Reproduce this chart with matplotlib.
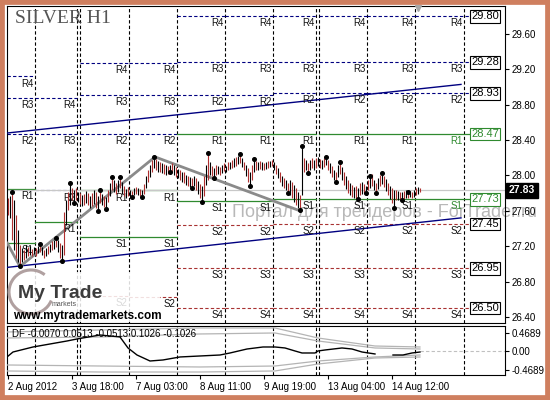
import numpy as np
import matplotlib
matplotlib.use("Agg")
import matplotlib.pyplot as plt
from matplotlib.patches import Rectangle, Arc
import matplotlib.transforms as mtrans

plt.rcParams.update({"font.family": "Liberation Sans", "font.size": 7})

# SILVER H1 bars, index 0 = 2 Aug 2012 (one bar per hour)
highs = [27.74,27.77,27.81,27.72,27.55,27.38,27.21,27.18,27.16,27.21,
         27.19,27.20,27.17,27.19,27.18,27.20,27.22,27.19,27.16,27.18,
         27.20,27.22,27.26,27.27,27.29,27.27,27.24,27.21,27.59,27.72,
         27.81,27.91,27.86,27.83,27.86,27.81,27.80,27.78,27.79,27.82,
         27.80,27.77,27.80,27.83,27.81,27.77,27.83,27.79,27.77,27.76,
         27.83,27.91,27.98,27.95,27.91,27.95,27.98,27.93,27.88,27.85,
         27.87,27.83,27.82,27.86,27.87,27.86,27.85,27.83,27.90,27.99,
         28.06,28.12,28.17,28.21,28.19,28.16,28.15,28.14,28.13,28.12,
         28.11,28.12,28.14,28.12,28.10,28.07,28.06,28.04,28.04,28.00,
         27.99,27.98,27.97,27.99,27.97,27.94,27.90,27.88,27.99,28.12,
         28.25,28.15,28.11,28.08,28.12,28.11,28.10,28.12,28.14,28.11,
         28.15,28.15,28.17,28.20,28.21,28.22,28.24,28.20,28.15,28.12,
         28.08,28.04,28.12,28.19,28.16,28.15,28.16,28.15,28.14,28.15,
         28.16,28.16,28.17,28.15,28.12,28.08,28.04,27.99,27.97,27.95,
         27.91,27.95,27.93,27.89,27.86,27.81,27.78,28.33,28.20,28.17,
         28.14,28.17,28.20,28.17,28.20,28.21,28.19,28.17,28.20,28.21,
         28.17,28.14,28.11,28.06,28.04,28.12,28.15,28.10,28.04,27.99,
         27.95,27.91,27.89,27.87,27.88,27.86,27.91,27.93,27.90,27.88,
         27.95,27.99,28.02,27.95,27.91,27.97,28.00,28.03,27.99,27.96,
         27.91,27.88,27.86,27.83,27.83,27.82,27.81,27.81,27.82,27.83,
         27.81,27.82,27.81,27.83,27.86,27.87,27.86]
lows = [27.55,27.52,27.27,27.16,27.07,27.02,26.98,27.02,27.04,27.07,
        27.09,27.10,27.09,27.11,27.09,27.12,27.13,27.10,27.07,27.09,
        27.11,27.13,27.16,27.17,27.19,27.13,27.07,27.03,27.10,27.44,
        27.61,27.67,27.72,27.69,27.72,27.70,27.68,27.65,27.67,27.69,
        27.67,27.63,27.65,27.68,27.63,27.60,27.69,27.67,27.64,27.62,
        27.70,27.77,27.83,27.81,27.79,27.81,27.86,27.79,27.77,27.74,
        27.77,27.74,27.76,27.78,27.79,27.78,27.77,27.76,27.79,27.86,
        27.93,27.98,28.04,28.08,28.06,28.04,28.04,28.03,28.02,28.00,
        28.02,28.04,28.04,28.00,27.98,27.97,27.95,27.93,27.91,27.89,
        27.88,27.87,27.86,27.88,27.83,27.79,27.74,27.70,27.77,27.89,
        27.95,28.00,27.99,27.97,28.00,28.02,28.00,28.03,28.05,28.04,
        28.06,28.07,28.08,28.10,28.11,28.13,28.14,28.10,28.06,27.99,
        27.93,27.88,27.95,28.04,28.06,28.06,28.07,28.06,28.06,28.07,
        28.08,28.10,28.11,28.06,28.02,27.97,27.93,27.88,27.86,27.83,
        27.80,27.78,27.74,27.70,27.67,27.63,27.61,27.78,28.04,28.06,
        28.03,28.06,28.08,28.06,28.08,28.11,28.08,28.07,28.10,28.12,
        28.06,28.03,27.98,27.95,27.93,27.98,28.02,27.95,27.89,27.85,
        27.80,27.78,27.76,27.74,27.73,27.73,27.78,27.79,27.80,27.80,
        27.83,27.86,27.88,27.83,27.80,27.85,27.88,27.90,27.87,27.82,
        27.78,27.73,27.69,27.63,27.72,27.72,27.72,27.72,27.73,27.74,
        27.74,27.76,27.74,27.76,27.78,27.79,27.81]
up_fractals = [2, 16, 24, 31, 46, 52, 56, 73, 100, 116, 123, 147, 159, 166, 181, 187, 200]
down_fractals = [6, 27, 33, 45, 49, 62, 67, 81, 92, 97, 103, 121, 140, 146, 150, 164, 175, 179, 184, 193, 197]

# pivot periods (bar index) and levels
day_breaks = [13.5, 34.5, 36, 60.5, 84.5, 108.5, 132.5, 154, 155.5, 179.5, 203.5, 228]
seg_start = [-0.5, 13.5, 36, 60.5, 84.5, 108.5, 132.5, 155.5, 179.5, 203.5]
seg_end = [13.5, 34.5, 60.5, 84.5, 108.5, 132.5, 154, 179.5, 203.5, 228]
R4 = [29.12, 28.88, 29.27, 29.27, 29.80, 29.80, 29.80, 29.80, 29.80, 29.80]
R3 = [28.88, 28.47, 28.91, 28.91, 29.28, 29.28, 29.28, 29.28, 29.28, 29.28]
R2 = [28.47, 27.83, 28.47, 28.47, 28.91, 28.91, 28.93, 28.93, 28.93, 28.93]
R1 = [27.85, 27.47, 27.83, 27.83, 28.47, 28.47, 28.47, 28.47, 28.47, 28.47]
S1 = [27.24, None, 27.30, 27.30, 27.71, 27.71, 27.73, 27.73, 27.73, 27.73]
S2 = [None, None, 26.64, 26.63, 27.44, 27.44, 27.45, 27.45, 27.45, 27.45]
S3 = [None, None, None, None, 26.95, 26.95, 26.95, 26.95, 26.95, 26.95]
S4 = [None, None, None, None, 26.50, 26.50, 26.50, 26.50, 26.50, 26.50]
box_levels = [29.80, 29.28, 28.93, 28.47, 27.73, 27.45, 26.95, 26.50]
box_green = [28.47, 27.73]

channel_x = [-0.5, 226.5]
channel_upper = [28.48, 29.03]
channel_lower = [26.96, 27.52]
zigzag_x = [-0.5, 6, 73.5, 146]
zigzag_y = [27.24, 26.97, 28.21, 27.60]
bid = 27.83

price_ticks = [26.40, 26.80, 27.20, 27.60, 28.00, 28.40, 28.80, 29.20, 29.60]
date_pos = [0, 32, 64, 96, 128, 160, 192]
date_labels = ["2 Aug 2012", "3 Aug 18:00", "7 Aug 03:00", "8 Aug 11:00",
               "9 Aug 19:00", "13 Aug 04:00", "14 Aug 12:00"]

# DF indicator
df_x = [-0.5, 2.5, 12.5, 21, 29.5, 34.5, 46, 56, 60, 64.5, 71, 77.5, 86, 96, 106, 111,
        119.5, 127.5, 133.5, 138.5, 143.5, 147, 153.5, 155, 158.5, 167, 172, 177, 183.5,
        188, 192.5, 197.5, 202, 206]
df_v = [-0.139, -0.013, 0.114, 0.190, 0.266, 0.317, 0.418, 0.368, 0.089, -0.089, -0.241,
        -0.215, -0.139, -0.114, -0.089, -0.038, 0.063, 0.114, 0.114, 0.089, 0.013, -0.038,
        -0.038, 0.013, 0.038, 0.089, 0.063, -0.013, -0.063, np.nan, -0.089, -0.089, -0.038, -0.013]
band_x = [-0.5, 46, 96, 133.5, 155, 183.5, 206]
band_up2 = [0.494, 0.545, 0.596, 0.596, 0.342, 0.139, 0.114]
band_up1 = [0.342, 0.368, 0.444, 0.469, 0.266, 0.089, 0.063]
band_lo1 = [-0.342, -0.368, -0.393, -0.368, -0.241, -0.139, -0.089]
band_lo2 = [-0.494, -0.520, -0.520, -0.494, -0.317, -0.165, -0.139]
df_ticks = [-0.4689, 0.0, 0.4689]
df_ticklabels = ["-0.4689", "0.00", "0.4689"]

NAVY = "#000080"
GREEN = "#2f8a2f"
DRED = "#a83232"

fig = plt.figure(figsize=(5.5, 4), dpi=100)
fig.patch.set_facecolor("white")
ax = fig.add_axes([7/550, 1-323/400, 498/550, 317/400])
ax2 = fig.add_axes([7/550, 1-375/400, 498/550, 49/400])

ax.set_xlim(-0.5, 248.5)
ax.set_ylim(26.331, 29.917)
ax2.set_xlim(-0.5, 248.5)
ax2.set_ylim(-0.596, 0.646)

for a in (ax, ax2):
    for s in a.spines.values():
        s.set_color("black"); s.set_linewidth(0.8)
    for xb in day_breaks:
        a.axvline(xb, color="black", lw=0.8, ls=(0, (3, 2)), zorder=2)

# watermark
ax.text(232/550, 1-212/400, "Портал для трейдеров - ForTrader.ru", transform=fig.transFigure,
        fontsize=13, color="#b8b8b8", va="center", ha="left", clip_on=False, zorder=1)

# pivot levels
lvl_sets = [("R4", R4), ("R3", R3), ("R2", R2), ("R1", R1), ("S1", S1), ("S2", S2), ("S3", S3), ("S4", S4)]
for k, (s0, s1) in enumerate(zip(seg_start, seg_end)):
    last = k == len(seg_start) - 1
    for name, vals in lvl_sets:
        v = vals[k]
        if v is None:
            continue
        end = 231.5 if last else s1
        if name in ("R1", "S1"):
            ax.plot([s0, end], [v, v], color=GREEN, lw=0.9, zorder=2)
        elif name.startswith("R"):
            ax.plot([s0, end], [v, v], color=NAVY, lw=0.8, ls=(0, (3, 2)), zorder=2)
        else:
            ax.plot([s0, end], [v, v], color=DRED, lw=0.8, ls=(0, (3, 2)), zorder=2)
        lc = GREEN if (last and name in ("R1", "S1")) else "#111111"
        ax.annotate(name, (s1, v), xytext=(-1, -1.5), textcoords="offset points",
                    ha="right", va="top", fontsize=7, color=lc, zorder=4)

# level boxes
for v in box_levels:
    c = GREEN if v in box_green else "black"
    ax.text(238.5, v, f"{v:.2f}", ha="center", va="center", fontsize=8, color=c, zorder=5,
            bbox=dict(boxstyle="square,pad=0.12", fc="white", ec=c, lw=0.8))

# bid line
ax.axhline(bid, color="#c8c8c8", lw=0.9, zorder=2)

# channel and zigzag
ax.plot(channel_x, channel_upper, color=NAVY, lw=1.0, zorder=3)
ax.plot(channel_x, channel_lower, color=NAVY, lw=1.0, zorder=3)
ax.plot(zigzag_x, zigzag_y, color="#8a8a8a", lw=2.0, zorder=3, solid_capstyle="round")

# bars
idx = np.arange(len(highs))
cols = ["#b03030" if i % 2 == 0 else "black" for i in idx]
ax.vlines(idx, lows, highs, colors=cols, lw=0.8, zorder=4)
ax.plot(up_fractals, [highs[i] for i in up_fractals], "o", ms=2.6, color="black", zorder=5)
ax.plot(down_fractals, [lows[i] for i in down_fractals], "o", ms=2.6, color="black", zorder=5)
ax.plot([205], [29.89], marker="v", ms=5, color="#a8a8a8", clip_on=False, zorder=5)

ax.set_xticks([])
ax.yaxis.tick_right()
ax.set_yticks(price_ticks)
ax.set_yticklabels([f"{p:.2f}" for p in price_ticks])
ax.tick_params(axis="y", direction="out", length=3, width=0.8, pad=2, labelsize=7)

# current price box
tr = mtrans.blended_transform_factory(ax.transAxes, ax.transData)
ax.text(1.008, bid, f"{bid:.2f}", transform=tr, ha="left", va="center", fontsize=7.5,
        color="white", weight="bold", clip_on=False, zorder=6,
        bbox=dict(boxstyle="square,pad=0.25", fc="black", ec="black"))

# indicator panel
for b in (band_up2, band_up1, band_lo1, band_lo2):
    ax2.plot(band_x, b, color="#b4b4b4", lw=0.9, zorder=3)
ax2.plot(df_x, df_v, color="black", lw=1.0, zorder=4)
ax2.plot([206, 248.5], [0, 0], color="#c0c0c0", lw=0.8, ls=(0, (3, 2)), zorder=3)
ax2.text(0.01, 0.84, "DF -0.0070 0.0513 -0.0513 0.1026 -0.1026", transform=ax2.transAxes,
         fontsize=7, va="center", ha="left", zorder=5)
ax2.yaxis.tick_right()
ax2.set_yticks(df_ticks)
ax2.set_yticklabels(df_ticklabels)
ax2.tick_params(axis="y", direction="out", length=3, width=0.8, pad=2, labelsize=7)
ax2.set_xticks(date_pos)
ax2.set_xticklabels(date_labels, ha="left")
ax2.tick_params(axis="x", direction="out", length=3, width=0.8, pad=2, labelsize=7)

# title and logo
fig.text(15/550, 1-10/400, "SILVER H1", family="Liberation Serif", fontsize=14,
         color="#555555", va="top", ha="left")
fig.add_artist(Rectangle((8/550, 1-322/400), 152/550, 50/400, transform=fig.transFigure,
                         fc="white", ec="none", alpha=0.85, zorder=1))
fig.add_artist(Arc((31/550, 1-292/400), 44/550, 44/400, theta1=60, theta2=330,
                   transform=fig.transFigure, color="#b0a0a0", lw=2.2, zorder=2))
fig.text(18/550, 1-293/400, "My Trade", fontsize=14, weight="bold", color="#3c3c3c",
         va="center", ha="left", zorder=3)
fig.text(52/550, 1-304/400, "markets", fontsize=5, color="#555555", va="center", ha="left", zorder=3)
fig.text(13/550, 1-316/400, "www.mytrademarkets.com", fontsize=8.5, weight="bold",
         color="black", va="center", ha="left", zorder=3)

# outer frame
fig.add_artist(Rectangle((0, 0), 1, 1, transform=fig.transFigure, fill=False,
                         ec="#cf7f5f", lw=7, zorder=10))

fig.savefig("out.png", dpi=100)
